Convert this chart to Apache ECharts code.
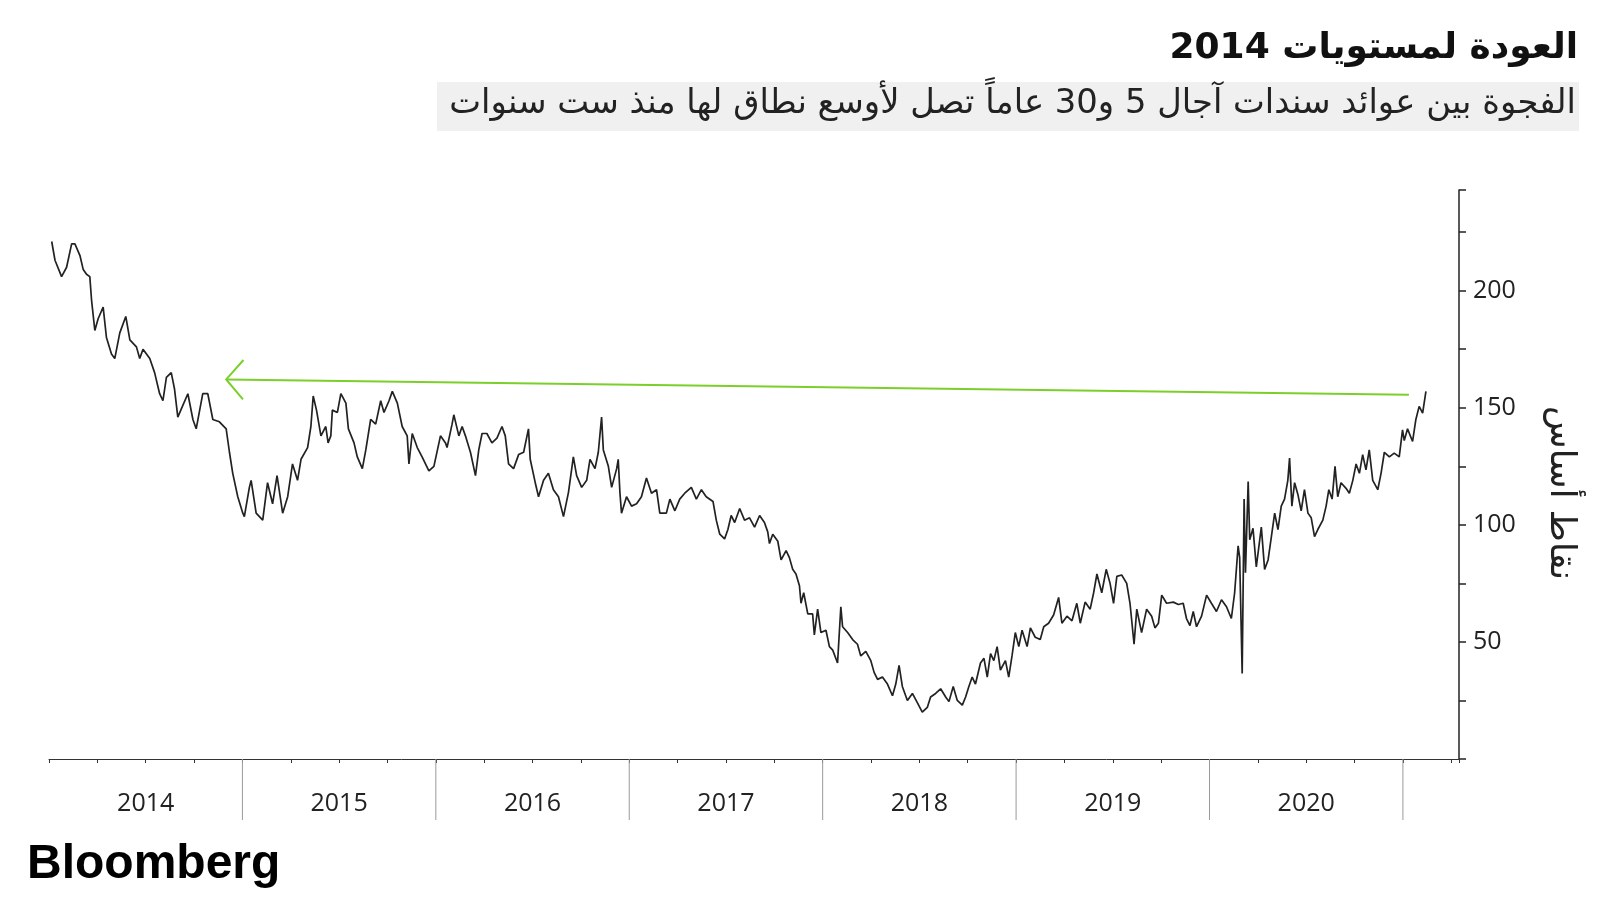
<!DOCTYPE html>
<html><head><meta charset="utf-8">
<script src="https://cdn.jsdelivr.net/npm/echarts@6/dist/echarts.min.js"></script>
<style>html,body{margin:0;padding:0;background:#fff}#c{width:1600px;height:900px}</style>
</head><body><div id="c"></div>
<script>
// Spread between 5-year and 30-year yields (basis points), time in decimal years
const years = [2014.014,2014.031,2014.065,2014.091,2014.117,2014.134,2014.160,2014.177,2014.194,2014.211,2014.220,2014.237,2014.254,2014.280,2014.297,2014.323,2014.340,2014.366,2014.397,2014.418,2014.452,2014.469,2014.486,2014.521,2014.546,2014.572,2014.589,2014.607,2014.632,2014.649,2014.666,2014.692,2014.718,2014.744,2014.761,2014.795,2014.821,2014.847,2014.881,2014.916,2014.933,2014.950,2014.976,2015.002,2015.010,2015.036,2015.045,2015.071,2015.105,2015.130,2015.156,2015.179,2015.208,2015.234,2015.259,2015.285,2015.303,2015.337,2015.354,2015.366,2015.383,2015.406,2015.431,2015.443,2015.457,2015.465,2015.491,2015.509,2015.535,2015.548,2015.577,2015.594,2015.620,2015.638,2015.663,2015.689,2015.715,2015.732,2015.758,2015.775,2015.801,2015.826,2015.852,2015.861,2015.878,2015.904,2015.929,2015.964,2015.990,2016.024,2016.050,2016.058,2016.084,2016.093,2016.119,2016.136,2016.153,2016.179,2016.205,2016.222,2016.239,2016.264,2016.290,2016.316,2016.342,2016.359,2016.376,2016.402,2016.428,2016.454,2016.479,2016.488,2016.514,2016.531,2016.557,2016.582,2016.608,2016.634,2016.660,2016.686,2016.711,2016.728,2016.754,2016.780,2016.797,2016.823,2016.840,2016.857,2016.866,2016.892,2016.909,2016.935,2016.943,2016.952,2016.960,2016.986,2017.012,2017.038,2017.063,2017.089,2017.115,2017.141,2017.158,2017.192,2017.210,2017.236,2017.261,2017.287,2017.321,2017.347,2017.373,2017.398,2017.433,2017.450,2017.468,2017.493,2017.510,2017.527,2017.545,2017.571,2017.596,2017.622,2017.648,2017.674,2017.699,2017.716,2017.725,2017.742,2017.768,2017.785,2017.811,2017.828,2017.845,2017.862,2017.880,2017.888,2017.902,2017.923,2017.948,2017.957,2017.974,2017.991,2018.017,2018.035,2018.052,2018.077,2018.094,2018.103,2018.129,2018.155,2018.180,2018.197,2018.223,2018.249,2018.266,2018.284,2018.309,2018.335,2018.361,2018.378,2018.395,2018.412,2018.438,2018.464,2018.490,2018.515,2018.541,2018.558,2018.584,2018.610,2018.636,2018.653,2018.675,2018.696,2018.722,2018.739,2018.756,2018.773,2018.790,2018.816,2018.834,2018.851,2018.868,2018.885,2018.902,2018.919,2018.945,2018.962,2018.979,2018.996,2019.014,2019.031,2019.057,2019.074,2019.099,2019.125,2019.143,2019.168,2019.194,2019.220,2019.237,2019.263,2019.289,2019.314,2019.332,2019.357,2019.383,2019.401,2019.418,2019.443,2019.466,2019.486,2019.504,2019.521,2019.546,2019.572,2019.589,2019.610,2019.624,2019.649,2019.675,2019.701,2019.718,2019.736,2019.753,2019.778,2019.813,2019.839,2019.864,2019.881,2019.899,2019.916,2019.933,2019.959,2019.985,2020.010,2020.036,2020.062,2020.088,2020.113,2020.130,2020.148,2020.156,2020.169,2020.179,2020.186,2020.200,2020.208,2020.225,2020.242,2020.268,2020.285,2020.303,2020.320,2020.337,2020.354,2020.371,2020.388,2020.405,2020.414,2020.426,2020.440,2020.457,2020.474,2020.491,2020.509,2020.526,2020.543,2020.560,2020.586,2020.603,2020.617,2020.634,2020.649,2020.663,2020.680,2020.706,2020.723,2020.741,2020.758,2020.775,2020.792,2020.809,2020.826,2020.844,2020.870,2020.887,2020.904,2020.930,2020.955,2020.981,2020.998,2021.007,2021.024,2021.050,2021.067,2021.084,2021.102,2021.119];
const spread = [221,213,206,210,220,220,215,209,207,206,196,183,188,193,180,173,171,182,189,179,176,171,175,171,165,156,153,163,165,158,146,151,156,145,141,156,156,145,144,141,131,122,112,105,103.5,116,119,105,102,118,109,121,105,112,126,119,128,133,142,155,149,138,142,135,138,149,148,156,152,141,135,129,124,132,145,143,153,148,153,157,152,142,138,126,139,133,129,123,125,138,135,133,143,147,138,142,138,131,121,132,139,139,135,137,142,138,126,124,130,131,141,128,118,112,119,122,115,112,103.5,114,129,121,116,119,128,124,131,146,132,125,116,124,128,113.5,105,112,108,109,112,120,113.5,115,105,105,111,106,111,113.5,116,111,115,112,110,102,96,94,98,104,101,107,102,103,99,104,101,97,92,96,93,85,89,86,81,79,74,66.5,71,62,62,53,64,54,55,48,46.5,41,65,56.5,54,51,49,44,46,42,37,34,35,32,27,32,40,31,25,28,24,20,22,26.5,28,30,26.5,24.5,31,25,23,26.5,31,35,32,41,43,35,45,42,48,38,42,35,44,54,48,55,48,56,52,51,56.5,58,61.5,69,58,61,59,66.5,58,67,64,71,79,71,81,75,66.5,78,78.6,75,66.5,49,64,54,64,61,56,58,70,66.5,67,66,66.5,60,57,63,56.5,61,70,66.5,63,68,65,60,71,91,86,36.5,111,79.5,118.5,93.6,98.5,82,99,81,85,95,105,98,108,111,119,128.5,108,118,113,106,115,105,103,95,98,102,108,115,111,125,112,118,115.6,113.5,119,126,122,130,123.5,132,119,115,122,131,129,130.6,129,140.6,136,141,135.6,145,150.6,147.7,157];

const yearLabels = ['2014','2015','2016','2017','2018','2019','2020'];
const yearBoundaries = [2015,2016,2017,2018,2019,2020,2021];
const yTickLabels = [50,100,150,200];
// arrow annotation: from latest level back to the 2014 level
const arrowTail = [2021.031, 155.6];
const arrowTip = [2014.916, 162.1];

const titleText = 'العودة لمستويات 2014';
const subtitleText = 'الفجوة بين عوائد سندات آجال 5 و30 عاماً تصل لأوسع نطاق لها منذ ست سنوات';
const yName = 'نقاط أساس';

const chart = echarts.init(document.getElementById('c'), null, {renderer:'canvas'});
const lineData = years.map((y,i)=>[y, spread[i]]);
const labelFont = "'Open Sans', 'Noto Sans', sans-serif";
const arabicFont = "'DejaVu Sans', sans-serif";

chart.setOption({
  animation:false,
  backgroundColor:'#ffffff',
  grid:{left:49, right:141, top:190, bottom:141},
  xAxis:{
    type:'value', min:2014, max:2021.29, interval:0.25,
    axisLine:{show:true, lineStyle:{color:'#333', width:1}},
    axisTick:{show:true, length:4, lineStyle:{color:'#333', width:1}},
    splitLine:{show:false},
    axisLabel:{
      margin:32, fontSize:25, color:'#222', fontFamily:labelFont,
      formatter:function(v){
        const f = v - Math.floor(v);
        if (Math.abs(f-0.5) < 1e-6) {
          const s = String(Math.floor(v));
          return yearLabels.indexOf(s) >= 0 ? s : '';
        }
        return '';
      }
    }
  },
  yAxis:{
    type:'value', position:'right', min:0, max:243, interval:25,
    axisLine:{show:true, lineStyle:{color:'#222', width:1.5}},
    axisTick:{show:true, length:7, lineStyle:{color:'#222', width:1.5}},
    splitLine:{show:false},
    axisLabel:{
      margin:14, fontSize:25, color:'#222', fontFamily:labelFont,
      formatter:function(v){ return yTickLabels.indexOf(v) >= 0 ? String(v) : ''; }
    }
  },
  series:[
    {
      type:'line', data:lineData, showSymbol:false, symbol:'none',
      lineStyle:{color:'#222', width:1.7}, z:3
    },
    {
      type:'custom', clip:false, silent:true, z:2,
      data:yearBoundaries.map(y=>[y]),
      renderItem:function(params, api){
        const p = api.coord([api.value(0), 0]);
        return {type:'line', shape:{x1:p[0], y1:p[1], x2:p[0], y2:p[1]+61},
          style:{stroke:'#9a9a9a', lineWidth:1}};
      }
    },
    {
      type:'custom', clip:false, silent:true, z:4,
      data:[[arrowTail[0], arrowTail[1], arrowTip[0], arrowTip[1]]],
      renderItem:function(params, api){
        const a = api.coord([api.value(0), api.value(1)]);
        const b = api.coord([api.value(2), api.value(3)]);
        let dx = a[0]-b[0], dy = a[1]-b[1];
        const len = Math.sqrt(dx*dx+dy*dy); dx/=len; dy/=len;
        const ang = 49*Math.PI/180, L = 26;
        const r1 = [b[0] + L*(dx*Math.cos(ang) - dy*Math.sin(ang)), b[1] + L*(dx*Math.sin(ang) + dy*Math.cos(ang))];
        const r2 = [b[0] + L*(dx*Math.cos(-ang) - dy*Math.sin(-ang)), b[1] + L*(dx*Math.sin(-ang) + dy*Math.cos(-ang))];
        const st = {stroke:'#7bcf2a', lineWidth:2, fill:null};
        return {type:'group', children:[
          {type:'line', shape:{x1:a[0], y1:a[1], x2:b[0], y2:b[1]}, style:st},
          {type:'polyline', shape:{points:[r1, b, r2]}, style:st}
        ]};
      }
    }
  ],
  graphic:[
    {type:'text', right:22, top:31, style:{text:titleText, font:"bold 36px "+arabicFont, fill:'#111', align:'right'}},
    {type:'rect', shape:{x:437, y:82, width:1142, height:49}, style:{fill:'#f0f0f0'}},
    {type:'text', right:24, top:87, style:{text:subtitleText, font:"33.8px "+arabicFont, fill:'#222', align:'right'}},
    {type:'text', x:1560, y:493, rotation:-Math.PI/2,
      style:{text:yName, font:"35px "+arabicFont, fill:'#222', align:'center', verticalAlign:'middle'}},
    {type:'text', left:27, top:841, style:{text:'Bloomberg', font:"bold 48px 'Liberation Sans', Arial, sans-serif", fill:'#000'}}
  ]
});
</script>
</body></html>
